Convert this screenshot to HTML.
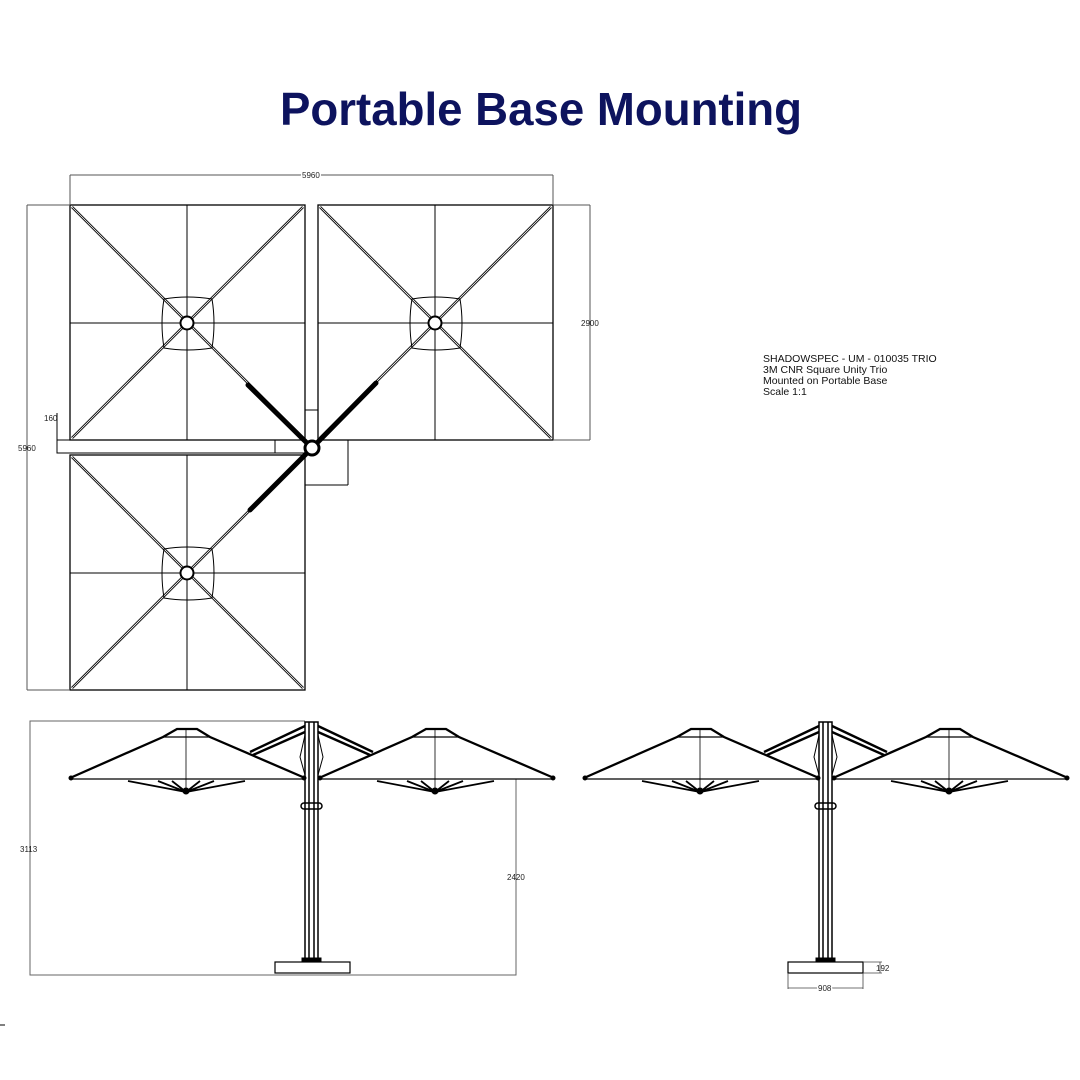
<!DOCTYPE html>
<html><head><meta charset="utf-8"><style>
html,body{margin:0;padding:0;background:#fff;}
svg{display:block;}
</style></head><body>
<svg width="1080" height="1080" viewBox="0 0 1080 1080" xmlns="http://www.w3.org/2000/svg">
<defs>
<g id="sq" fill="none" stroke="#000">
  <rect x="0" y="0" width="235" height="235" stroke-width="1.3"/>
  <line x1="117" y1="0" x2="117" y2="235" stroke-width="1"/>
  <line x1="0" y1="118" x2="235" y2="118" stroke-width="1"/>
  <line x1="2" y1="2" x2="233" y2="233" stroke-width="2.6"/>
  <line x1="2" y1="2" x2="233" y2="233" stroke="#fff" stroke-width="0.8"/>
  <line x1="233" y1="2" x2="2" y2="233" stroke-width="2.6"/>
  <line x1="233" y1="2" x2="2" y2="233" stroke="#fff" stroke-width="0.8"/>
  <path d="M94,94 Q117,90 142,94 Q146,118 142,143 Q117,147 94,143 Q90,118 94,94Z" stroke-width="1"/>
  <circle cx="117" cy="118" r="6.5" fill="#fff" stroke-width="2"/>
</g>
<g id="um" fill="none" stroke="#000">
  <polyline points="70,778 163,737 177,729 197,729 210,737 305,778" stroke-width="2.3"/>
  <line x1="163" y1="737" x2="210" y2="737" stroke-width="1.2"/>
  <line x1="70" y1="779" x2="305" y2="779" stroke-width="1.2"/>
  <line x1="186" y1="729" x2="186" y2="790" stroke-width="0.8"/>
  <path d="M186,792 L128,781 M186,792 L158,781 M186,792 L172,781 M186,792 L200,781 M186,792 L214,781 M186,792 L245,781" stroke-width="1.8"/>
  <circle cx="186" cy="791" r="3" fill="#000"/>
  <circle cx="71" cy="778" r="2" fill="#000"/>
  <circle cx="304" cy="778" r="2" fill="#000"/>
</g>
<g id="pole" fill="none" stroke="#000">
  <rect x="305" y="722" width="13" height="240" stroke-width="1.5"/>
  <line x1="309" y1="722" x2="309" y2="962" stroke-width="1.5"/>
  <line x1="314" y1="722" x2="314" y2="962" stroke-width="1.5"/>
  <path d="M305,726 L250,752 M305,732 L253,755" stroke-width="2.4"/>
  <path d="M318,726 L373,752 M318,732 L370,755" stroke-width="2.4"/>
  <path d="M305,735 L300,757 L305,775 M318,735 L323,757 L318,775" stroke-width="1"/>
  <rect x="301" y="803" width="21" height="6" rx="3" stroke-width="1.5"/>
  <rect x="302" y="958" width="19" height="4" fill="#000"/>
</g>
</defs>

<text x="280" y="125" font-family="Liberation Sans, sans-serif" font-weight="bold" font-size="46" fill="#0d135e" textLength="522" lengthAdjust="spacingAndGlyphs">Portable Base Mounting</text>

<use href="#sq" x="70" y="205"/>
<use href="#sq" x="318" y="205"/>
<use href="#sq" x="70" y="455"/>
<g fill="none" stroke="#000" stroke-width="1">
  <rect x="57" y="440" width="248" height="13"/>
  <line x1="275" y1="440" x2="275" y2="453"/>
  <line x1="305" y1="410" x2="318" y2="410"/>
  <line x1="305" y1="453" x2="305" y2="485"/>
  <line x1="305" y1="485" x2="348" y2="485"/>
  <line x1="348" y1="440" x2="348" y2="485"/>
  <line x1="57" y1="413" x2="57" y2="440"/>
  <line x1="70" y1="175" x2="553" y2="175" stroke="#555"/>
  <line x1="70" y1="175" x2="70" y2="205" stroke="#555"/>
  <line x1="553" y1="175" x2="553" y2="205" stroke="#555"/>
  <line x1="553" y1="205" x2="590" y2="205" stroke="#555"/>
  <line x1="553" y1="440" x2="590" y2="440" stroke="#555"/>
  <line x1="590" y1="205" x2="590" y2="440" stroke="#555"/>
  <line x1="27" y1="205" x2="70" y2="205" stroke="#555"/>
  <line x1="27" y1="690" x2="70" y2="690" stroke="#555"/>
  <line x1="27" y1="205" x2="27" y2="690" stroke="#555"/>
</g>
<g stroke="#000" stroke-linecap="round">
  <line x1="248" y1="385" x2="310" y2="446" stroke-width="5"/>
  <line x1="376" y1="383" x2="314" y2="446" stroke-width="5"/>
  <line x1="310" y1="450" x2="250" y2="510" stroke-width="5"/>
</g>
<circle cx="312" cy="448" r="7" fill="#fff" stroke="#000" stroke-width="3"/>
<g font-family="Liberation Sans, sans-serif" font-size="8" fill="#222">
  <text x="302" y="178" style="paint-order:stroke" stroke="#fff" stroke-width="3">5960</text>
  <text x="581" y="326">2900</text>
  <text x="44" y="421">160</text>
  <text x="18" y="451">5960</text>
</g>
<g font-family="Liberation Sans, sans-serif" font-size="10.5" fill="#111">
  <text x="763" y="362">SHADOWSPEC - UM - 010035 TRIO</text>
  <text x="763" y="373">3M CNR Square Unity Trio</text>
  <text x="763" y="384">Mounted on Portable Base</text>
  <text x="763" y="395">Scale 1:1</text>
</g>

<g fill="none" stroke="#666" stroke-width="1">
  <polyline points="305,721 30,721 30,975 516,975 516,779"/>
</g>
<use href="#um"/>
<use href="#um" x="249"/>
<use href="#pole"/>
<rect x="275" y="962" width="75" height="11" fill="#fff" stroke="#000" stroke-width="1.2"/>
<g font-family="Liberation Sans, sans-serif" font-size="8" fill="#222">
  <text x="20" y="852">3113</text>
  <text x="507" y="880">2420</text>
</g>

<g transform="translate(514,0)">
  <use href="#um"/>
  <use href="#um" x="249"/>
  <use href="#pole"/>
</g>
<rect x="788" y="962" width="75" height="11" fill="#fff" stroke="#000" stroke-width="1.2"/>
<g fill="none" stroke="#444" stroke-width="0.8">
  <line x1="863" y1="962" x2="882" y2="962"/>
  <line x1="863" y1="973" x2="882" y2="973"/>
  <line x1="880" y1="962" x2="880" y2="973"/>
  <line x1="788" y1="973" x2="788" y2="989"/>
  <line x1="863" y1="973" x2="863" y2="989"/>
  <line x1="788" y1="988" x2="863" y2="988"/>
</g>
<g font-family="Liberation Sans, sans-serif" font-size="8" fill="#222">
  <text x="876" y="971">192</text>
  <text x="818" y="991" style="paint-order:stroke" stroke="#fff" stroke-width="3">908</text>
</g>
<line x1="0" y1="1025" x2="5" y2="1025" stroke="#000" stroke-width="1"/>
</svg>
</body></html>
